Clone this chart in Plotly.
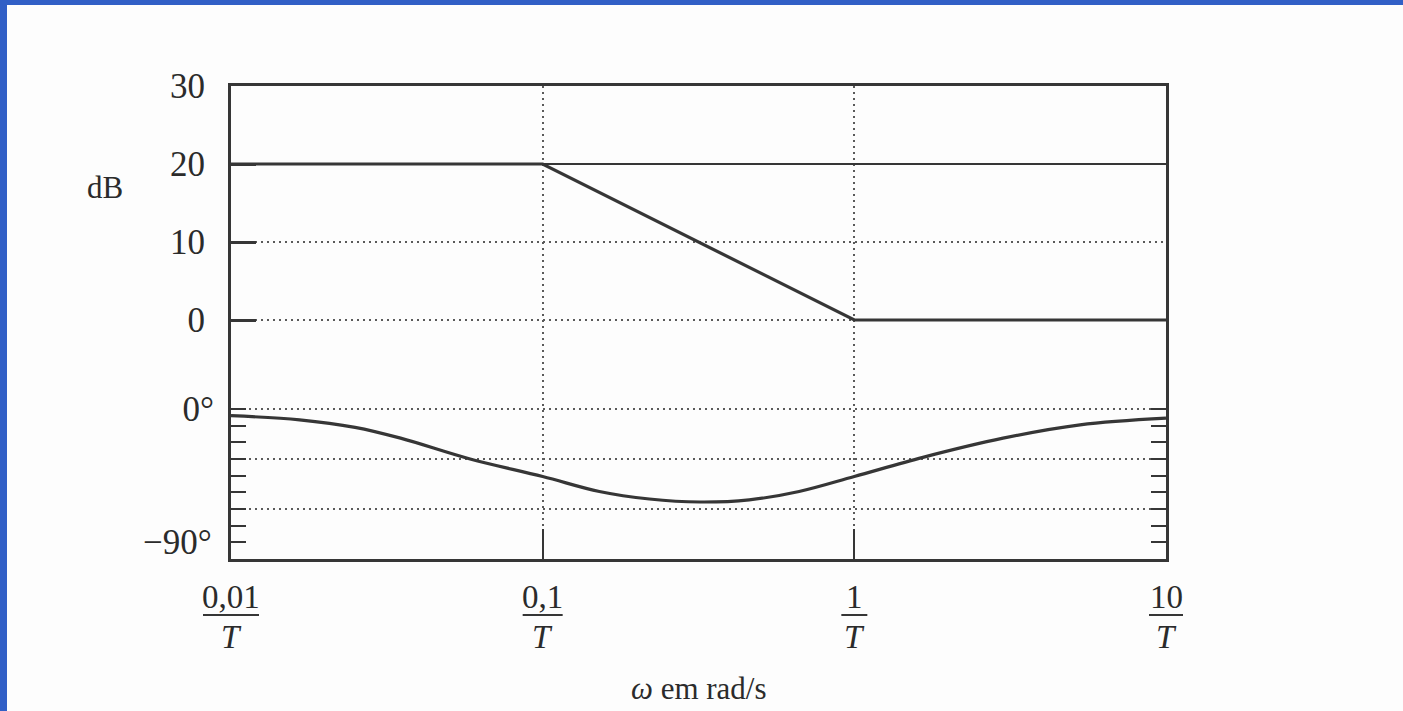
import numpy as np
import plotly.graph_objects as go

# Asymptotic magnitude of the lag network (dB) against normalized frequency ωT
omega_mag = [0.01, 0.1, 1, 10]
mag_db = [20, 20, 0, 0]

# Phase curve sampled along ωT (degrees)
omega_phase = [0.01, 0.0166, 0.025, 0.035, 0.0585, 0.1, 0.152, 0.22, 0.32,
               0.46, 0.665, 1, 1.66, 3, 5.3, 10]
phase_deg = [-4, -6.5, -11, -17.5, -30, -40.5, -49.5, -54, -55.8,
             -54.5, -49.5, -40.5, -29, -17.5, -9.5, -5.5]

# Low-frequency gain reference line
ref_db = 20

# Axis ticks and labels
x_ticks = [0.01, 0.1, 1, 10]
x_tick_num = ["0,01", "0,1", "1", "10"]
x_tick_den = "<i>T</i>"
mag_ticks = [0, 10, 20, 30]
mag_labels = ["0", "10", "20", "30"]
phase_major = [0, -30, -60, -90]
phase_major_labels = ["0°", "", "", ""]
phase_minor = [-10, -20, -40, -50, -70, -80]

# ---- page geometry (pixels) ----
W, H = 1403, 711
L, R, T, B = 231, 237, 86, 152
PW, PH = W - L - R, H - T - B

INK = "#363636"
GRID = "#5a5a5a"
BG = "#fdfdfd"
BLUE = "#315fc6"
FONT = "Liberation Serif"
TXT = "#2b2b2b"

# axis ranges: magnitude occupies the upper part, phase the lower part of one frame
MAG_TOP, MAG_ZERO_PX = 30, 320.0          # 30 dB at the frame top, 0 dB at y=320
mag_scale = (MAG_ZERO_PX - T) / MAG_TOP
mag_range = [-(H - B - MAG_ZERO_PX) / mag_scale, MAG_TOP]
PH_ZERO_PX = 409.0                          # 0° line, -90° at frame bottom
ph_scale = (H - B - PH_ZERO_PX) / 90.0
ph_range = [-90, (PH_ZERO_PX - T) / ph_scale]
x_log_range = [np.log10(x_ticks[0]), np.log10(x_ticks[-1])]

fig = go.Figure()

fig.add_trace(go.Scatter(
    x=[omega_mag[0], omega_mag[-1]], y=[ref_db, ref_db], mode="lines",
    line=dict(color=INK, width=2), yaxis="y", hoverinfo="skip"))
fig.add_trace(go.Scatter(
    x=omega_mag, y=mag_db, mode="lines",
    line=dict(color=INK, width=3.2), yaxis="y"))
fig.add_trace(go.Scatter(
    x=omega_phase, y=phase_deg, mode="lines",
    line=dict(color=INK, width=3.2, shape="spline", smoothing=1.0), yaxis="y2"))

dot = "2px,4px"

fig.update_layout(
    width=W, height=H,
    margin=dict(l=L, r=R, t=T, b=B, pad=0),
    paper_bgcolor=BG, plot_bgcolor=BG,
    showlegend=False,
    font=dict(family=FONT, color=TXT),
    xaxis=dict(
        type="log", range=x_log_range,
        tickmode="array", tickvals=x_ticks, showticklabels=False,
        ticks="inside", ticklen=30, tickwidth=2.2, tickcolor=INK,
        showline=True, linecolor=INK, linewidth=3, mirror=True,
        showgrid=True, gridcolor=GRID, gridwidth=1.6, griddash=dot,
        zeroline=False),
    yaxis=dict(
        range=mag_range, tickmode="array", tickvals=mag_ticks, ticktext=mag_labels,
        ticks="inside", ticklen=25, tickwidth=2.5, tickcolor=INK,
        ticklabelstandoff=16, tickfont=dict(size=35, family=FONT, color=TXT),
        showline=True, linecolor=INK, linewidth=3, mirror=True,
        showgrid=True, gridcolor=GRID, gridwidth=1.6, griddash=dot,
        zeroline=False),
    yaxis2=dict(
        overlaying="y", side="left", anchor="x",
        range=ph_range, tickmode="array", tickvals=phase_major, ticktext=phase_major_labels,
        ticks="inside", ticklen=15, tickwidth=2.2, tickcolor=INK, mirror="ticks",
        ticklabelstandoff=16, tickfont=dict(size=35, family=FONT, color=TXT),
        minor=dict(tickmode="array", tickvals=phase_minor, ticks="inside",
                   ticklen=15, tickwidth=2.2, tickcolor=INK, showgrid=False),
        showline=False,
        showgrid=True, gridcolor=GRID, gridwidth=1.6, griddash=dot,
        zeroline=False),
)


def px_x(px):
    return (px - L) / PW


def px_y(py):
    return (H - B - py) / PH


annotations = []
shapes = []
bar_w = [56, 40, 26, 34]
for xv, num, bw in zip(x_ticks, x_tick_num, bar_w):
    annotations.append(dict(
        x=np.log10(xv), xref="x", y=0, yref="paper", yanchor="middle",
        yshift=-38, text=num, showarrow=False,
        font=dict(size=33, family=FONT, color=TXT)))
    annotations.append(dict(
        x=np.log10(xv), xref="x", y=0, yref="paper", yanchor="middle",
        yshift=-78, text=x_tick_den, showarrow=False,
        font=dict(size=33, family=FONT, color=TXT)))
    # fraction bar under each numerator, centred on the tick
    xc = (np.log10(xv) - x_log_range[0]) / (x_log_range[1] - x_log_range[0])
    shapes.append(dict(
        type="line", xref="paper", yref="paper",
        x0=xc - bw / 2 / PW, x1=xc + bw / 2 / PW,
        y0=px_y(H - B + 56), y1=px_y(H - B + 56),
        line=dict(color=INK, width=2)))

# unit label of the magnitude scale
annotations.append(dict(
    x=0, xref="paper", xshift=-126, xanchor="center",
    y=17, yref="y", yanchor="middle", text="dB", showarrow=False,
    font=dict(size=31, family=FONT, color=TXT)))
# lower end of the phase scale
annotations.append(dict(
    x=0, xref="paper", xshift=-17, xanchor="right",
    y=phase_major[-1], yref="y2", yanchor="middle", yshift=17, text="−90°",
    showarrow=False, font=dict(size=35, family=FONT, color=TXT)))
# frequency axis title
annotations.append(dict(
    x=0.5, xref="paper", y=0, yref="paper", yanchor="middle", yshift=-129,
    text="<i>ω</i> em rad/s", showarrow=False,
    font=dict(size=31, family=FONT, color=TXT)))

# page edge bands
shapes.append(dict(type="rect", xref="paper", yref="paper",
                   x0=px_x(0), x1=px_x(7), y0=px_y(H), y1=px_y(0),
                   fillcolor=BLUE, line=dict(width=0)))
shapes.append(dict(type="rect", xref="paper", yref="paper",
                   x0=px_x(0), x1=px_x(W), y0=px_y(5), y1=px_y(0),
                   fillcolor=BLUE, line=dict(width=0)))

fig.update_layout(annotations=annotations, shapes=shapes)

fig.write_html("out.html")
